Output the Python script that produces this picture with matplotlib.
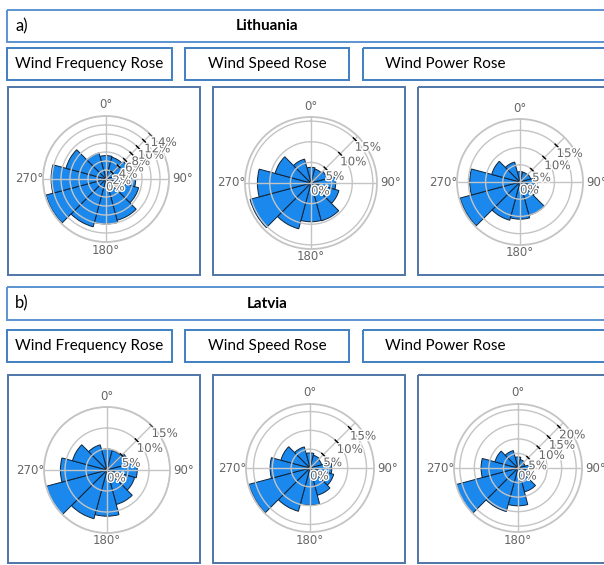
import numpy as np
import matplotlib
matplotlib.use('Agg')
import matplotlib.pyplot as plt
import matplotlib.patheffects as pe
from matplotlib.patches import Rectangle
from matplotlib.transforms import offset_copy

# wind direction bins (deg, clockwise from north), 30 deg sectors
directions = [0, 30, 60, 90, 120, 150, 180, 210, 240, 270, 300, 330]

# Lithuania
lt_freq = [5.2, 5.0, 5.5, 6.6, 7.5, 9.5, 10.0, 11.0, 13.8, 12.2, 9.2, 6.0]
lt_speed = [3.8, 3.5, 4.0, 6.0, 7.0, 9.5, 9.4, 11.5, 15.3, 13.0, 9.0, 6.0]
lt_power = [3.0, 3.0, 3.2, 4.3, 5.5, 10.0, 10.8, 11.5, 18.0, 14.6, 8.5, 6.0]
# Latvia
lv_freq = [5.0, 4.8, 5.5, 7.2, 6.8, 8.5, 11.0, 12.0, 15.2, 11.1, 8.5, 6.2]
lv_speed = [4.0, 3.5, 3.2, 5.8, 6.5, 7.5, 9.9, 11.9, 16.8, 10.6, 8.0, 5.8]
lv_power = [3.8, 3.0, 2.5, 4.5, 5.0, 8.5, 13.0, 15.5, 22.0, 12.7, 8.2, 6.2]

rticks_lt_freq = [0, 2, 4, 6, 8, 10, 12, 14]
rticks_5 = [0, 5, 10, 15]
rticks_5_20 = [0, 5, 10, 15, 20]

titles = ['Wind Frequency Rose', 'Wind Speed Rose', 'Wind Power Rose']
theta_labels = ['0°', '90°', '180°', '270°']

W, H = 604, 565
BLUE = '#1a88ec'
GRID = '#c4c4c4'
TXT = '#666666'

fig = plt.figure(figsize=(W / 100, H / 100), dpi=100)
bg = fig.add_axes([0, 0, 1, 1])
bg.set_xlim(0, W)
bg.set_ylim(H, 0)
bg.axis('off')


def box(x0, y0, x1, y1, color, lw=1.4):
    bg.add_patch(Rectangle((x0, y0), x1 - x0, y1 - y0, fill=False,
                           edgecolor=color, linewidth=lw, clip_on=False))


# header and title boxes
for y0, y1, tag, name, ty0, ty1 in [(10, 42, 'a)', 'Lithuania', 48, 80),
                                    (287, 320, 'b)', 'Latvia', 330, 362)]:
    box(7, y0, 615, y1, '#5b93d0')
    bg.text(15, (y0 + y1) / 2, tag, fontsize=12, family='Lato',
            ha='left', va='center')
    bg.text(267, (y0 + y1) / 2, name, fontsize=11, family='Lato',
            fontweight='bold', ha='center', va='center')
    for (bx0, bx1), cx, t in zip([(7, 172), (185, 349), (363, 615)],
                                 [89, 267, 445], titles):
        box(bx0, ty0, bx1, ty1, '#3f7fc4')
        bg.text(cx, (ty0 + ty1) / 2, t, fontsize=11, family='Lato',
                ha='center', va='center')

# rose panel frames
for y0, y1 in [(87, 275), (375, 563)]:
    for x0, x1 in [(8, 200), (213, 405), (418, 615)]:
        box(x0, y0, x1, y1, '#4f75a8')


def rose(cx, cy, R, values, rmax, rticks):
    ax = fig.add_axes([(cx - R) / W, 1 - (cy + R) / H, 2 * R / W, 2 * R / H],
                      projection='polar')
    ax.set_theta_zero_location('N')
    ax.set_theta_direction(-1)
    ax.bar(np.deg2rad(directions), values, width=np.deg2rad(30),
           color=BLUE, edgecolor='#10243a', linewidth=0.7, zorder=1)
    ax.set_ylim(0, rmax)
    ax.set_thetagrids([0, 90, 180, 270], [''] * 4)
    ax.tick_params(axis='x', length=0)
    ax.set_rgrids(rticks[1:], labels=[''] * (len(rticks) - 1))
    ax.grid(color=GRID, linewidth=1.0)
    ax.set_axisbelow(False)
    ax.spines['polar'].set_color(GRID)
    ax.spines['polar'].set_linewidth(1.3)

    # direction labels around the rose
    for lab, (dx, dy) in zip(theta_labels,
                             [(0, -R - 11), (R + 14, 0), (0, R + 8), (-R - 14, 0)]):
        bg.text(cx + dx, cy + dy, lab, fontsize=8.5, color=TXT,
                ha='center', va='center')

    a = np.deg2rad(45)
    ax.plot([a, a], [0, rmax], color=GRID, lw=1.0, zorder=3)
    px = rmax / R  # data units per pixel
    tr = offset_copy(ax.transData, fig=fig, x=0, y=-1.5, units='dots')
    for r in rticks:
        if r > 0:
            d = 2.0 * px / r
            ax.plot([a - d, a + d], [r, r], color='black', lw=1.0, zorder=4)
        ax.text(a, r, f'{r}%', transform=tr, ha='left', va='top',
                fontsize=8.5, color=TXT, zorder=5,
                path_effects=[pe.withStroke(linewidth=2, foreground='white')])
    return ax


rose(106, 179, 63, lt_freq, 14, rticks_lt_freq)
rose(311, 183, 66, lt_speed, 16, rticks_5)
rose(520, 182, 63, lt_power, 18.3, rticks_5)
rose(107, 470, 63, lv_freq, 15, rticks_5)
rose(310, 468, 64, lv_speed, 17, rticks_5)
rose(518, 468, 64, lv_power, 22, rticks_5_20)

fig.savefig('out.png', dpi=100)
